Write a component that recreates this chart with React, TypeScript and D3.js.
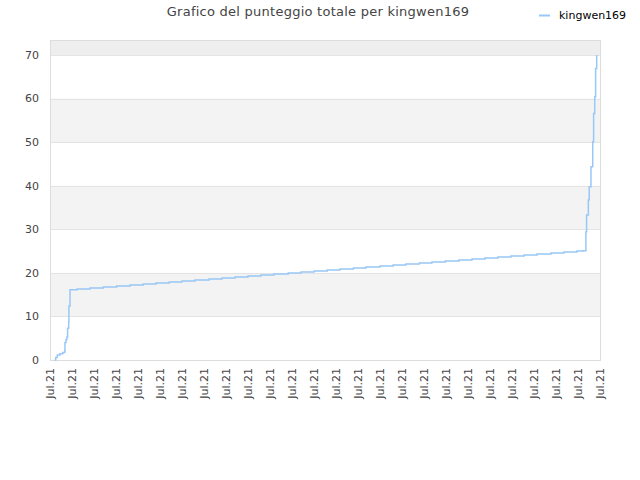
import { useEffect, useRef } from "react";
import * as d3 from "d3";

// x positions are in tick units (one unit per "Jul.21" tick)
const tickLabels = Array.from({ length: 26 }, () => "Jul.21");
const yTicks = [0, 10, 20, 30, 40, 50, 60, 70];

const pointsX = [
  0.21, 0.26, 0.33, 0.45, 0.58, 0.67, 0.68, 0.73, 0.77, 0.8, 0.85, 0.86, 0.91,
  1.24, 1.82, 2.42, 3.03, 3.64, 4.24, 4.82, 5.42, 6.0, 6.59, 7.23, 7.82, 8.41,
  9.0, 9.59, 10.18, 10.83, 11.41, 12.0, 12.6, 13.18, 13.79, 14.36, 15.0, 15.6,
  16.18, 16.79, 17.36, 17.97, 18.59, 19.18, 19.77, 20.36, 20.95, 21.55, 22.14,
  22.77, 23.36, 23.95, 24.24, 24.36, 24.39, 24.47, 24.51, 24.59, 24.67, 24.71,
  24.76, 24.8, 24.85,
];
const pointsY = [
  0, 0.6, 1.15, 1.45, 1.7, 2.0, 4.0, 4.7, 5.3, 7.3, 8.8, 12.4, 16.13,
  16.3, 16.53, 16.76, 16.98, 17.21, 17.44, 17.67, 17.9, 18.13, 18.36, 18.59,
  18.82, 19.05, 19.28, 19.51, 19.74, 19.97, 20.2, 20.43, 20.66, 20.89, 21.11,
  21.34, 21.57, 21.8, 22.03, 22.26, 22.49, 22.72, 22.95, 23.18, 23.41, 23.64,
  23.87, 24.1, 24.33, 24.56, 24.79, 25.02, 25.1, 29.45, 33.28, 36.72, 39.78,
  44.37, 50.1, 56.6, 60.4, 66.9, 70.0,
];

const font = "'DejaVu Sans', sans-serif";

export default function App() {
  const svgRef = useRef<SVGSVGElement>(null);

  useEffect(() => {
    if (!svgRef.current) return;
    const svg = d3.select(svgRef.current);
    svg.selectAll("*").remove();

    const margin = { top: 40, right: 40, bottom: 120, left: 50 };
    const width = 640;
    const height = 480;
    const w = width - margin.left - margin.right;
    const h = height - margin.top - margin.bottom;

    const x = d3.scaleLinear().domain([0, tickLabels.length - 1]).range([0, w]);
    const y = d3.scaleLinear().domain([0, 73.44]).range([h, 0]);

    const g = svg
      .append("g")
      .attr("transform", `translate(${margin.left},${margin.top})`);

    // alternating bands
    const bands = [10, 30, 50];
    g.selectAll(".band")
      .data(bands)
      .join("rect")
      .attr("x", 0)
      .attr("width", w)
      .attr("y", (d) => y(d + 10))
      .attr("height", (d) => y(d) - y(d + 10))
      .attr("fill", "#f3f3f3");
    g.append("rect")
      .attr("x", 0)
      .attr("width", w)
      .attr("y", 0)
      .attr("height", y(70))
      .attr("fill", "#eeeeee");

    // grid lines
    g.selectAll(".grid")
      .data(yTicks)
      .join("line")
      .attr("x1", 0)
      .attr("x2", w)
      .attr("y1", (d) => Math.round(y(d)) + 0.5)
      .attr("y2", (d) => Math.round(y(d)) + 0.5)
      .attr("stroke", "#e4e4e4");

    // border
    g.append("rect")
      .attr("x", 0.5)
      .attr("y", 0.5)
      .attr("width", w)
      .attr("height", h)
      .attr("fill", "none")
      .attr("stroke", "#dddddd");

    // y labels
    g.selectAll(".ylab")
      .data(yTicks)
      .join("text")
      .attr("x", -11)
      .attr("y", (d) => y(d))
      .attr("dy", "0.35em")
      .attr("text-anchor", "end")
      .attr("font-family", font)
      .attr("font-size", "11px")
      .attr("fill", "#444")
      .text((d) => d);

    // x labels
    g.selectAll(".xlab")
      .data(tickLabels)
      .join("text")
      .attr("transform", (_, i) => `translate(${x(i) + 4},${h + 8}) rotate(-90)`)
      .attr("text-anchor", "end")
      .attr("font-family", font)
      .attr("font-size", "11px")
      .attr("fill", "#444")
      .text((d) => d);

    // line
    const pts: [number, number][] = pointsX.map((px, i) => [px, pointsY[i]]);
    const line = d3
      .line<[number, number]>()
      .x((d) => x(d[0]))
      .y((d) => y(d[1]))
      .curve(d3.curveStepAfter);
    g.append("path")
      .attr("d", line(pts))
      .attr("fill", "none")
      .attr("stroke", "#99c8f5")
      .attr("stroke-width", 1.5);

    // title
    svg
      .append("text")
      .attr("x", 318)
      .attr("y", 16)
      .attr("text-anchor", "middle")
      .attr("font-family", font)
      .attr("font-size", "13px")
      .attr("letter-spacing", "0.25px")
      .attr("fill", "#444")
      .text("Grafico del punteggio totale per kingwen169");

    // legend
    svg
      .append("line")
      .attr("x1", 539)
      .attr("x2", 550)
      .attr("y1", 15.5)
      .attr("y2", 15.5)
      .attr("stroke", "#99c8f5")
      .attr("stroke-width", 2);
    svg
      .append("text")
      .attr("x", 559)
      .attr("y", 19)
      .attr("font-family", font)
      .attr("font-size", "11px")
      .attr("fill", "#000")
      .text("kingwen169");
  }, []);

  return (
    <svg
      ref={svgRef}
      width={640}
      height={480}
      style={{ position: "absolute", left: 0, top: 0, background: "#fff" }}
    />
  );
}
